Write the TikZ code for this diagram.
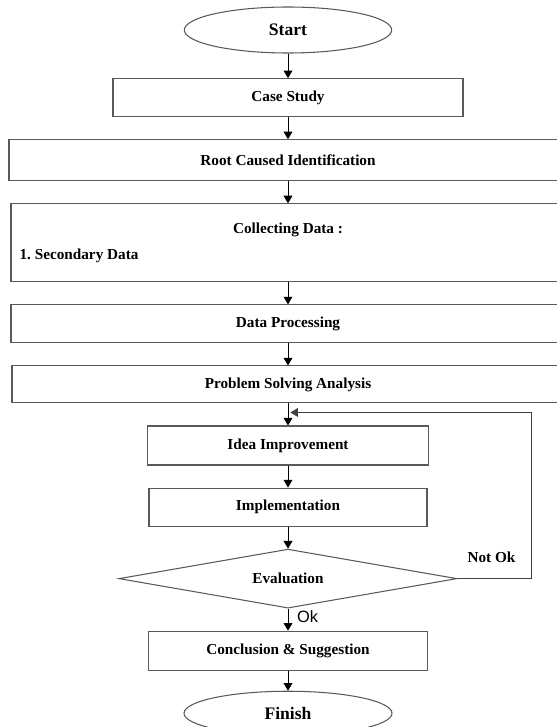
\documentclass[tikz,border=0pt]{standalone}
\usepackage{fontspec}
\setmainfont{Liberation Serif}
\setsansfont{Liberation Sans}
\usetikzlibrary{positioning,shapes.geometric,arrows.meta}
\frenchspacing

\begin{document}
\begin{tikzpicture}[x=0.03cm, y=-0.03cm, node distance=0.66cm,
    box/.style={draw=black!65, line width=0.9pt, rectangle, align=center, font=\bfseries\fontsize{13}{15}\selectfont},
    term/.style={draw=black!65, line width=0.9pt, ellipse, minimum width=6.22cm, minimum height=1.38cm, font=\bfseries\fontsize{15}{18}\selectfont},
    decision/.style={draw=black!65, line width=0.9pt, diamond, aspect=5.7, inner sep=1pt, minimum width=10.14cm, minimum height=1.77cm, font=\bfseries\fontsize{13}{15}\selectfont},
    arr/.style={-{Triangle[width=7.5pt,length=6.5pt]}, line width=0.8pt}]
        \useasboundingbox (0,0) rectangle (556,727);

        \node (start) [term] at (288,30) {Start};
        \node (case) [box, minimum width=10.5cm, minimum height=1.14cm, below=0.74cm of start] {Case Study};
        \node (root) [box, minimum width=16.74cm, minimum height=1.23cm, below=of case] {Root Caused Identification};
        \node (collect) [box, minimum width=16.62cm, minimum height=2.34cm, below=of root] {};
        \node (collecttitle) [font=\bfseries\fontsize{13}{15}\selectfont] at ([yshift=0.38cm]collect.center) {Collecting Data :};
        \node (secondary) [anchor=west, font=\bfseries\fontsize{13}{15}\selectfont] at ([xshift=0.15cm, yshift=-0.4cm]collect.west) {1. Secondary Data};
        \node (process) [box, minimum width=16.62cm, minimum height=1.14cm, below=of collect] {Data Processing};
        \node (solve) [box, minimum width=16.56cm, minimum height=1.11cm, below=of process] {Problem Solving Analysis};
        \node (idea) [box, minimum width=8.43cm, minimum height=1.17cm, below=of solve] {Idea Improvement};
        \node (impl) [box, minimum width=8.34cm, minimum height=1.14cm, below=of idea] {Implementation};
        \node (eval) [decision, below=of impl] {Evaluation};
        \node (concl) [box, minimum width=8.37cm, minimum height=1.17cm, below=of eval] {Conclusion \& Suggestion};
        \node (finish) [term, minimum width=6.24cm, minimum height=1.32cm, below=0.6cm of concl] {Finish};

        % back to idea improvement
        \coordinate (back) at ([xshift=2pt, yshift=0.39cm]idea.north);
        \node (notok) [font=\bfseries\fontsize{13}{15}\selectfont] at ([xshift=1.02cm, yshift=0.63cm]eval.east) {Not Ok};

        \draw[arr] (start) -- (case);
        \draw[arr] (case) -- (root);
        \draw[arr] (root) -- (collect);
        \draw[arr] (collect) -- (process);
        \draw[arr] (process) -- (solve);
        \draw[arr] (solve) -- (idea);
        \draw[arr] (idea) -- (impl);
        \draw[arr] (impl) -- (eval);
        \draw[arr] (eval) -- node[right, xshift=4pt, yshift=3pt, font=\sffamily\fontsize{14}{16}\selectfont] {Ok} (concl);
        \draw[arr] (concl) -- (finish);
        \draw[arr, draw=black!75] (eval.east) -- ++(74,0) |- (back);
    \end{tikzpicture}
\end{document}
